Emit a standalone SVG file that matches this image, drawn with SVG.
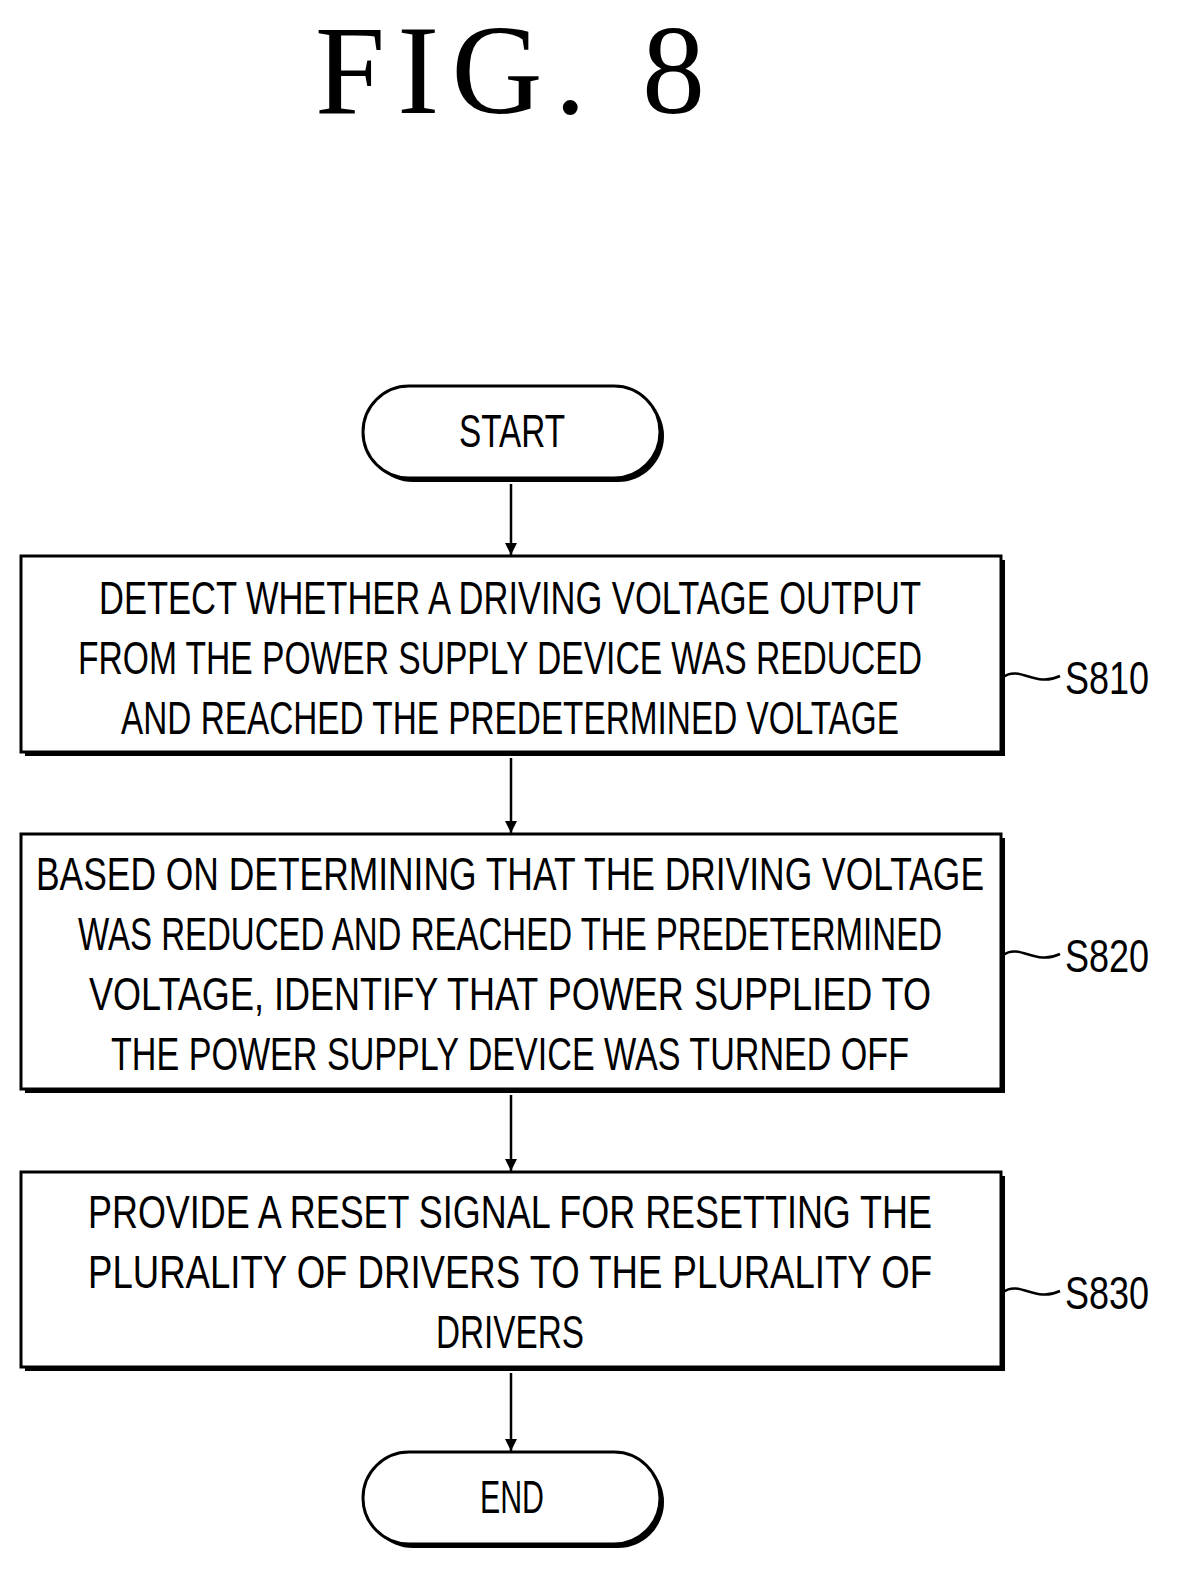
<svg xmlns="http://www.w3.org/2000/svg" width="1177" height="1579" viewBox="0 0 1177 1579">
<defs>
<style>
.t{font-family:"Liberation Sans Narrow","Liberation Sans",sans-serif;font-size:46px;fill:#000;text-anchor:middle}
.b{fill:#fff;stroke:#000;stroke-width:3}
.s{fill:#000}
.c{stroke:#000;stroke-width:2.5;fill:none}
</style>
<marker id="a" viewBox="0 0 10 10" refX="10" refY="5" markerWidth="12" markerHeight="18" markerUnits="userSpaceOnUse" orient="auto"><path d="M0,0L10,5L0,10z"/></marker>
</defs>
<rect width="1177" height="1579" fill="#fff"/>
<text x="510" y="113" font-family="Liberation Serif,serif" font-size="126" text-anchor="middle" textLength="390" lengthAdjust="spacing">FIG. 8</text>
<g id="start">
<rect x="367" y="390" width="297" height="92" rx="46" class="s"/>
<rect x="363" y="386" width="297" height="92" rx="46" class="b"/>
<text x="512" y="447" class="t" textLength="106" lengthAdjust="spacingAndGlyphs">START</text>
</g>
<g id="s810">
<rect x="25" y="560" width="980" height="196" class="s"/>
<rect x="21" y="556" width="980" height="196" class="b"/>
<text x="510" y="614" class="t" textLength="822" lengthAdjust="spacingAndGlyphs">DETECT WHETHER A DRIVING VOLTAGE OUTPUT</text>
<text x="500" y="674" class="t" textLength="844" lengthAdjust="spacingAndGlyphs">FROM THE POWER SUPPLY DEVICE WAS REDUCED</text>
<text x="510" y="734" class="t" textLength="778" lengthAdjust="spacingAndGlyphs">AND REACHED THE PREDETERMINED VOLTAGE</text>
<path class="c" d="M1003,677 C1020,665 1035,688 1060,676" stroke-width="1.5"/>
<text x="1107" y="694" class="t" textLength="84" lengthAdjust="spacingAndGlyphs">S810</text>
</g>
<g id="s820">
<rect x="25" y="838" width="980" height="255" class="s"/>
<rect x="21" y="834" width="980" height="255" class="b"/>
<text x="510" y="890" class="t" textLength="948" lengthAdjust="spacingAndGlyphs">BASED ON DETERMINING THAT THE DRIVING VOLTAGE</text>
<text x="510" y="950" class="t" textLength="864" lengthAdjust="spacingAndGlyphs">WAS REDUCED AND REACHED THE PREDETERMINED</text>
<text x="510" y="1010" class="t" textLength="842" lengthAdjust="spacingAndGlyphs">VOLTAGE, IDENTIFY THAT POWER SUPPLIED TO</text>
<text x="510" y="1070" class="t" textLength="798" lengthAdjust="spacingAndGlyphs">THE POWER SUPPLY DEVICE WAS TURNED OFF</text>
<path class="c" d="M1003,955 C1020,943 1035,966 1060,954" stroke-width="1.5"/>
<text x="1107" y="972" class="t" textLength="84" lengthAdjust="spacingAndGlyphs">S820</text>
</g>
<g id="s830">
<rect x="25" y="1176" width="980" height="195" class="s"/>
<rect x="21" y="1172" width="980" height="195" class="b"/>
<text x="510" y="1228" class="t" textLength="844" lengthAdjust="spacingAndGlyphs">PROVIDE A RESET SIGNAL FOR RESETTING THE</text>
<text x="510" y="1288" class="t" textLength="844" lengthAdjust="spacingAndGlyphs">PLURALITY OF DRIVERS TO THE PLURALITY OF</text>
<text x="510" y="1348" class="t" textLength="148" lengthAdjust="spacingAndGlyphs">DRIVERS</text>
<path class="c" d="M1003,1292 C1020,1280 1035,1303 1060,1291" stroke-width="1.5"/>
<text x="1107" y="1309" class="t" textLength="84" lengthAdjust="spacingAndGlyphs">S830</text>
</g>
<g id="end">
<rect x="367" y="1456" width="297" height="92" rx="46" class="s"/>
<rect x="363" y="1452" width="297" height="92" rx="46" class="b"/>
<text x="512" y="1513" class="t" textLength="64" lengthAdjust="spacingAndGlyphs">END</text>
</g>
<g id="connectors">
<line class="c" x1="511" y1="484" x2="511" y2="555" marker-end="url(#a)"/>
<line class="c" x1="511" y1="758" x2="511" y2="833" marker-end="url(#a)"/>
<line class="c" x1="511" y1="1095" x2="511" y2="1171" marker-end="url(#a)"/>
<line class="c" x1="511" y1="1373" x2="511" y2="1451" marker-end="url(#a)"/>
</g>
</svg>
